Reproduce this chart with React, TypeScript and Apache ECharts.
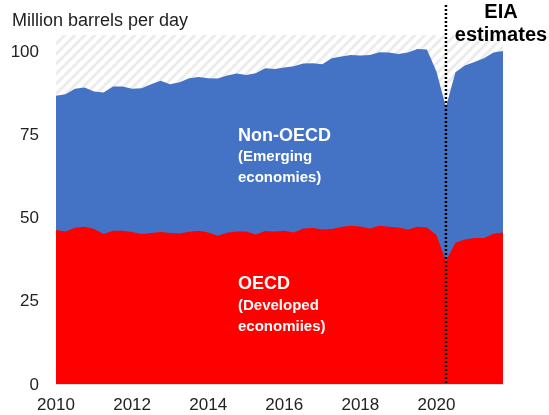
import React, { useEffect, useRef } from "react";
import * as echarts from "echarts";

// Quarterly data, 2010Q1 .. 2021Q4 (million barrels per day)
const startYear = 2010;
const quarterStep = 0.25;
const worldTotal = [
  86.7, 87.2, 88.8, 89.2,
  88.0, 87.7, 89.5, 89.5,
  88.8, 89.0, 90.2, 91.2,
  90.2, 90.8, 92.0, 92.4,
  92.0, 91.9, 92.8, 93.4,
  93.0, 93.5, 95.0, 94.8,
  95.2, 95.6, 96.4, 96.5,
  96.2, 98.0, 98.5, 99.0,
  98.8, 99.0, 99.8, 99.7,
  99.3, 99.7, 100.8, 100.6,
  94.0, 83.3, 93.8, 95.8,
  96.9, 98.0, 99.7, 100.2,
];
const oecd = [
  46.3, 45.9, 47.0, 47.3,
  46.6, 45.1, 46.1, 46.1,
  45.7, 45.1, 45.4, 45.7,
  45.4, 45.3, 45.8, 46.1,
  45.6, 44.6, 45.5, 45.9,
  45.9, 45.0, 46.0, 45.9,
  46.1, 45.6, 46.8, 46.9,
  46.5, 46.6, 47.2, 47.6,
  47.4, 46.8, 47.6, 47.3,
  47.1, 46.5, 47.3, 47.1,
  44.8, 37.0, 42.5, 43.5,
  43.9, 43.9, 45.2, 45.6,
];
const yTicks = [0, 25, 50, 75, 100];
const estimateStart = 2020.25;
const axisMax = 105;
const xMin = 2010;
const xMax = 2021.75;

const FONT = "Liberation Sans, Arial, sans-serif";

function makeHatch(): string {
  const s = 10;
  const c = document.createElement("canvas");
  c.width = s;
  c.height = s;
  const ctx = c.getContext("2d")!;
  ctx.fillStyle = "#ffffff";
  ctx.fillRect(0, 0, s, s);
  ctx.strokeStyle = "#ececec";
  ctx.lineWidth = 3;
  ctx.beginPath();
  ctx.moveTo(-1, s + 1);
  ctx.lineTo(s + 1, -1);
  ctx.moveTo(-s / 2 - 1, s / 2 + 1);
  ctx.lineTo(s / 2 + 1, -s / 2 - 1);
  ctx.moveTo(s / 2 - 1, s * 1.5 + 1);
  ctx.lineTo(s * 1.5 + 1, s / 2 - 1);
  ctx.stroke();
  return c.toDataURL();
}

export default function App() {
  const ref = useRef<HTMLDivElement>(null);
  useEffect(() => {
    const chart = echarts.init(ref.current!, null, { renderer: "svg" });
    const xs = worldTotal.map((_, i) => startYear + i * quarterStep);
    const oecdData = xs.map((x, i) => [x, oecd[i]]);
    // Non-OECD area = band between OECD and world total; drawn as total area underneath OECD area
    const totalData = xs.map((x, i) => [x, worldTotal[i]]);
    const ceilingData = xs.map((x) => [x, axisMax]);

    const areaSeries = (name: string, data: number[][], color: any, z: number) => ({
      name,
      type: "line",
      data,
      z,
      symbol: "none",
      showSymbol: false,
      smooth: false,
      lineStyle: { width: 0, opacity: 0 },
      areaStyle: { color, opacity: 1, origin: "start" },
      emphasis: { disabled: true },
      silent: true,
    });

    chart.setOption({
      animation: false,
      grid: { left: 56, right: 46, top: 35, bottom: 31 },
      xAxis: {
        type: "value",
        min: xMin,
        max: xMax,
        interval: 2,
        axisLine: { show: true, lineStyle: { color: "#d9d9d9", width: 1 } },
        axisTick: { show: false },
        splitLine: { show: false },
        z: 10,
        axisLabel: {
          color: "#222",
          fontSize: 17,
          fontFamily: FONT,
          margin: 12,
          showMaxLabel: false,
          formatter: (v: number) => String(v),
        },
      },
      yAxis: {
        type: "value",
        min: 0,
        max: axisMax,
        interval: 25,
        axisLine: { show: false },
        axisTick: { show: false },
        splitLine: { show: false },
        axisLabel: {
          color: "#222",
          fontSize: 17,
          fontFamily: FONT,
          margin: 17,
          showMaxLabel: false,
          formatter: (v: number) => (yTicks.indexOf(v) >= 0 ? String(v) : ""),
        },
      },
      series: [
        areaSeries(
          "gap",
          ceilingData,
          { image: makeHatch(), repeat: "repeat", imageWidth: 10, imageHeight: 10 },
          1
        ),
        areaSeries("Non-OECD", totalData, "#4472c4", 2),
        areaSeries("OECD", oecdData, "#ff0000", 3),
      ],
    });

    const lx = chart.convertToPixel({ xAxisIndex: 0 }, estimateStart) as number;
    const ly = chart.convertToPixel({ yAxisIndex: 0 }, 0) as number;

    const txt = (text: string, x: number, y: number, font: string, fill: string, align = "left") => ({
      type: "text",
      z: 100,
      x,
      y,
      style: { text, fill, font, align, verticalAlign: "middle" },
    });

    chart.setOption({
      graphic: [
        {
          type: "line",
          z: 100,
          shape: { x1: lx, y1: 5, x2: lx, y2: ly },
          style: { stroke: "#000", lineWidth: 2.5, lineDash: [2, 2] },
        },
        txt("Million barrels per day", 12, 20, `18px ${FONT}`, "#222"),
        txt("EIA", 501, 11, `bold 20px ${FONT}`, "#000", "center"),
        txt("estimates", 501, 34, `bold 20px ${FONT}`, "#000", "center"),
        txt("Non-OECD", 238, 135, `bold 18px ${FONT}`, "#fff"),
        txt("(Emerging", 238, 155, `bold 15px ${FONT}`, "#fff"),
        txt("economies)", 238, 176, `bold 15px ${FONT}`, "#fff"),
        txt("OECD", 238, 283, `bold 18px ${FONT}`, "#fff"),
        txt("(Developed", 238, 304, `bold 15px ${FONT}`, "#fff"),
        txt("economiies)", 238, 325, `bold 15px ${FONT}`, "#fff"),
      ],
    });

    return () => chart.dispose();
  }, []);
  return (
    <div
      ref={ref}
      style={{ position: "fixed", left: 0, top: 0, width: 549, height: 415 }}
    />
  );
}
